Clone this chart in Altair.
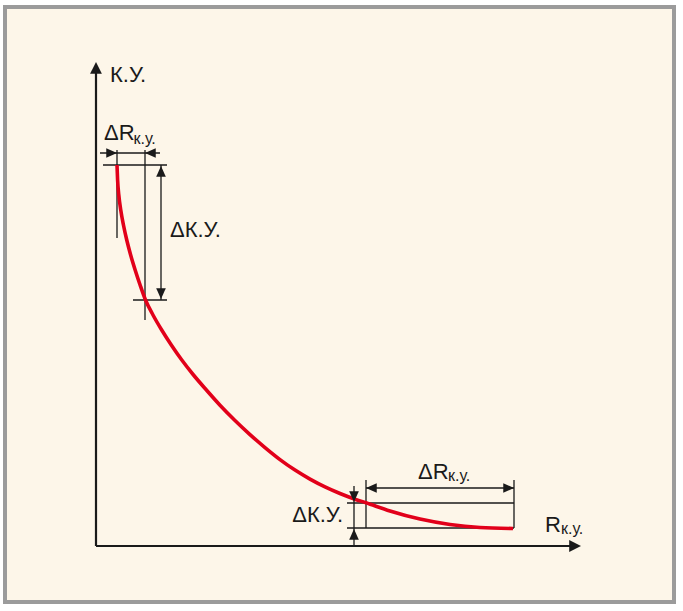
import altair as alt
import pandas as pd

# Diagram coordinates: origin at the axes corner, x to the right, y upward
curve_x = [21, 21.6, 22.8, 24.75, 27.45, 30.75, 34.65, 39.15, 44.1, 49.5, 57, 65.7,
           75.3, 85.8, 97.5, 110.4, 124, 139, 154, 169, 184, 199, 214, 229, 244,
           259, 270, 294, 324, 354, 384, 417]
curve_y = [381, 366, 351, 336, 321, 306, 291, 276, 261, 246, 231, 216, 201, 186,
           171, 156, 140.8, 125.5, 111.4, 98.4, 86.4, 75.9, 66.9, 59.1, 52.5,
           46.8, 43.2, 35, 26.9, 21.5, 18.5, 17.5]

# thin construction / dimension lines
line_x1 = [7, 21, 49, 37, 4, 65, 251, 251, 270, 418, 270, 258]
line_y1 = [381, 396, 396, 246, 393, 381, 43, 18, 66, 66, 58, 60]
line_x2 = [71, 21, 49, 71, 64, 65, 418, 418, 270, 418, 418, 258]
line_y2 = [381, 308, 226, 246, 393, 246, 43, 18, 18, 18, 58, 0]

# coordinate axes
axis_x1 = [0, 0]
axis_y1 = [0, 0]
axis_x2 = [0, 476]
axis_y2 = [474, 0]

# arrowheads: tip position and direction (degrees, clockwise from right)
arrow_x = [21, 49, 65, 65, 270, 418, 258, 258]
arrow_y = [393, 393, 380, 247, 58, 58, 44, 17]
arrow_dir = [0, 180, 270, 90, 180, 0, 90, 270]
axis_arrow_x = [0, 485]
axis_arrow_y = [484, 0]
axis_arrow_dir = [270, 0]

# labels
label_text = ["К.У.", "ΔR", "ΔК.У.", "ΔR", "R"]
label_x = [14, 8, 74, 322, 449]
label_y = [464, 406, 309, 67, 14]
sub_text = ["к.у.", "к.у.", "к.у."]
sub_x = [37.5, 352, 465]
sub_y = [402, 65, 12]
right_text = ["ΔК.У."]
right_x = [247]
right_y = [24]

# frame
frame_x = [-91]
frame_x2 = [578]
frame_y = [539]
frame_y2 = [-56]

W, H = 683, 611
xs = alt.Scale(domain=[-96, 587], nice=False, zero=False)
ys = alt.Scale(domain=[-65, 546], nice=False, zero=False)
FONT = "Liberation Sans"
INK = "#1a1a1a"

frame = alt.Chart(pd.DataFrame({"x": frame_x, "x2": frame_x2, "y": frame_y, "y2": frame_y2})).mark_rect(
    fill="#fdf6e9", stroke="#9b9b9b", strokeWidth=4
).encode(x=alt.X("x:Q", scale=xs, axis=None), x2="x2", y=alt.Y("y:Q", scale=ys, axis=None), y2="y2")

lines = alt.Chart(pd.DataFrame({"x": line_x1, "y": line_y1, "x2": line_x2, "y2": line_y2})).mark_rule(
    color=INK, strokeWidth=1.3
).encode(x=alt.X("x:Q", scale=xs), y=alt.Y("y:Q", scale=ys), x2="x2", y2="y2")

axes = alt.Chart(pd.DataFrame({"x": axis_x1, "y": axis_y1, "x2": axis_x2, "y2": axis_y2})).mark_rule(
    color=INK, strokeWidth=2.2
).encode(x=alt.X("x:Q", scale=xs), y=alt.Y("y:Q", scale=ys), x2="x2", y2="y2")

curve = alt.Chart(pd.DataFrame({"x": curve_x, "y": curve_y})).mark_line(
    color="#e2001a", strokeWidth=3.6, interpolate="monotone"
).encode(x=alt.X("x:Q", scale=xs), y=alt.Y("y:Q", scale=ys))

ARROW = "M0,0L-1,-0.45L-1,0.45Z"
arrows = alt.Chart(pd.DataFrame({"x": arrow_x, "y": arrow_y, "a": arrow_dir})).mark_point(
    shape=ARROW, filled=True, color=INK, opacity=1, size=460, strokeWidth=0
).encode(x=alt.X("x:Q", scale=xs), y=alt.Y("y:Q", scale=ys), angle=alt.Angle("a:Q", scale=None))

axis_arrows = alt.Chart(pd.DataFrame({"x": axis_arrow_x, "y": axis_arrow_y, "a": axis_arrow_dir})).mark_point(
    shape="M0,0L-1,-0.5L-1,0.5Z", filled=True, color=INK, opacity=1, size=560, strokeWidth=0
).encode(x=alt.X("x:Q", scale=xs), y=alt.Y("y:Q", scale=ys), angle=alt.Angle("a:Q", scale=None))

labels = alt.Chart(pd.DataFrame({"x": label_x, "y": label_y, "t": label_text})).mark_text(
    font=FONT, fontSize=22, color=INK, align="left", baseline="alphabetic"
).encode(x=alt.X("x:Q", scale=xs), y=alt.Y("y:Q", scale=ys), text="t:N")

subs = alt.Chart(pd.DataFrame({"x": sub_x, "y": sub_y, "t": sub_text})).mark_text(
    font=FONT, fontSize=16, color=INK, align="left", baseline="alphabetic"
).encode(x=alt.X("x:Q", scale=xs), y=alt.Y("y:Q", scale=ys), text="t:N")

rlabels = alt.Chart(pd.DataFrame({"x": right_x, "y": right_y, "t": right_text})).mark_text(
    font=FONT, fontSize=22, color=INK, align="right", baseline="alphabetic"
).encode(x=alt.X("x:Q", scale=xs), y=alt.Y("y:Q", scale=ys), text="t:N")

chart = alt.layer(frame, lines, axes, curve, arrows, axis_arrows, labels, subs, rlabels).properties(
    width=W, height=H, padding=0, autosize=alt.AutoSizeParams(type="none"), background="#ffffff"
).configure_view(stroke=None)

chart.save("out.html", embed_options={"renderer": "svg", "actions": False})
